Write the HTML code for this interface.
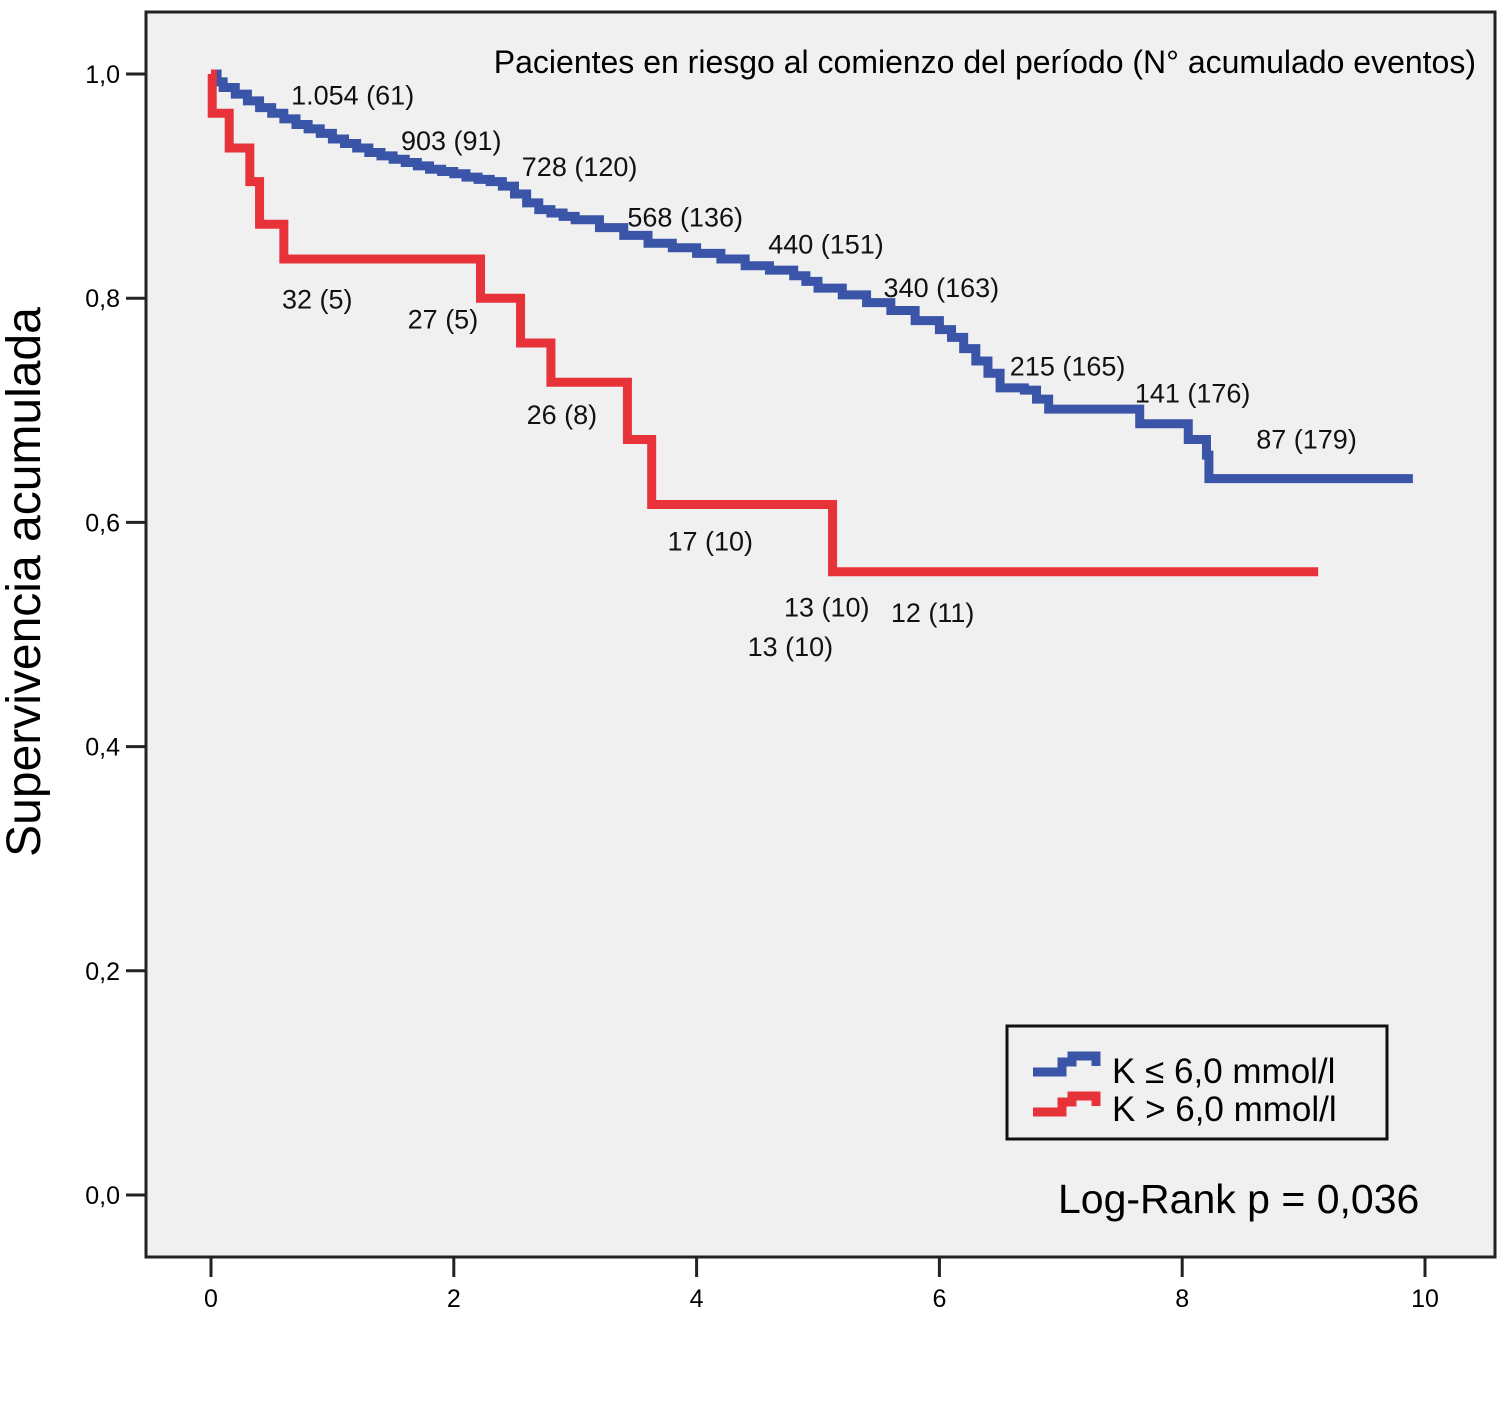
<!DOCTYPE html>
<html><head><meta charset="utf-8"><style>
body{margin:0;background:#fff}
svg{display:block;font-family:"Liberation Sans",sans-serif}
</style></head><body>
<svg id="c" width="1507" height="1403">
<rect x="146" y="12" width="1349" height="1245" fill="#f0f0f0" stroke="#222" stroke-width="3"/>
<g id="axes"></g>
<g id="series"></g>
<g id="labels" font-size="27" fill="#111"></g>
<text x="0" y="0" font-size="48" transform="translate(40,582) rotate(-90)" text-anchor="middle">Supervivencia acumulada</text>
<text x="1476" y="73" font-size="32" text-anchor="end">Pacientes en riesgo al comienzo del período (N° acumulado eventos)</text>
<g>
<rect x="1007" y="1026" width="380" height="113" fill="none" stroke="#111" stroke-width="3"/>
<path d="M1033 1072 H1062 V1062 H1072 V1056 H1096 V1066" fill="none" stroke="#3a55a8" stroke-width="9"/>
<text x="1112" y="1083" font-size="35">K ≤ 6,0 mmol/l</text>
<path d="M1033 1112 H1062 V1102 H1072 V1096 H1096 V1106" fill="none" stroke="#e8323a" stroke-width="9"/>
<text x="1112" y="1121" font-size="35">K &gt; 6,0 mmol/l</text>
</g>
<text x="1058" y="1213" font-size="41">Log-Rank p = 0,036</text>
</svg>
<script>
const xTicks=[0,2,4,6,8,10];
const yTicks=[0,0.2,0.4,0.6,0.8,1.0];
const yTickLabels=["0,0","0,2","0,4","0,6","0,8","1,0"];
const blueT=[0,0.05,0.1,0.2,0.3,0.4,0.5,0.6,0.7,0.8,0.9,1.0,1.1,1.2,1.3,1.4,1.5,1.6,1.7,1.8,1.9,2.0,2.1,2.2,2.3,2.4,2.5,2.6,2.7,2.8,2.9,3.0,3.2,3.4,3.6,3.8,4.0,4.2,4.4,4.6,4.8,4.9,5.0,5.2,5.4,5.6,5.8,6.0,6.1,6.2,6.3,6.4,6.5,6.7,6.8,6.9,7.6,7.65,8.0,8.05,8.2,8.22,9.9];
const blueS=[1.0,0.993,0.988,0.982,0.976,0.970,0.965,0.96,0.955,0.951,0.947,0.942,0.938,0.934,0.93,0.927,0.924,0.921,0.918,0.915,0.913,0.911,0.908,0.906,0.904,0.9,0.893,0.885,0.879,0.876,0.873,0.870,0.863,0.856,0.849,0.845,0.840,0.835,0.829,0.825,0.82,0.815,0.809,0.803,0.796,0.789,0.78,0.772,0.765,0.755,0.744,0.733,0.72,0.718,0.71,0.701,0.701,0.688,0.688,0.674,0.66,0.639,0.639];
const redT=[0,0.01,0.15,0.32,0.4,0.6,2.22,2.55,2.8,3.43,3.63,5.12,9.12];
const redS=[1.0,0.965,0.934,0.904,0.866,0.835,0.8,0.76,0.725,0.674,0.616,0.556,0.556];
const annText=["1.054 (61)","903 (91)","728 (120)","568 (136)","440 (151)","340 (163)","215 (165)","141 (176)","87 (179)","32 (5)","27 (5)","26 (8)","17 (10)","13 (10)","12 (11)","13 (10)"];
const annT=[0.66,1.565,2.56,3.43,4.59,5.54,6.58,7.61,8.61,0.585,1.62,2.60,3.76,4.72,5.60,4.42];
const annS=[0.973,0.932,0.909,0.864,0.840,0.801,0.731,0.707,0.666,0.791,0.773,0.688,0.575,0.516,0.511,0.481];
const NS="http://www.w3.org/2000/svg";
const X=t=>211+t*121.4, Y=s=>1195-s*1121;
function mk(tag,attrs,parent){const e=document.createElementNS(NS,tag);for(const k in attrs)e.setAttribute(k,attrs[k]);parent.appendChild(e);return e;}
const ax=document.getElementById('axes');
xTicks.forEach(t=>{
 const l=mk('line',{x1:X(t),x2:X(t),y1:1257,y2:1277,stroke:'#222','stroke-width':3},ax);
 
 
 const tx=mk('text',{x:X(t),y:1307,'font-size':25,'text-anchor':'middle'},ax);tx.textContent=t;
 
 
});
yTicks.forEach((s,i)=>{
 const l=mk('line',{x1:126,x2:146,y1:Y(s),y2:Y(s),stroke:'#222','stroke-width':3},ax);
 
 
 const tx=mk('text',{x:120,y:Y(s)+9,'font-size':25,'text-anchor':'end'},ax);tx.textContent=yTickLabels[i];
 
 
});
function step(T,S){let d='M'+X(T[0])+' '+Y(S[0]);for(let i=1;i<T.length;i++){d+=' H'+X(T[i])+' V'+Y(S[i]);}return d;}
const sg=document.getElementById('series');
const b=mk('path',{d:step(blueT,blueS),fill:'none',stroke:'#3a55a8','stroke-width':9},sg);


const r=mk('path',{d:step(redT,redS),fill:'none',stroke:'#e8323a','stroke-width':9},sg);


const lg=document.getElementById('labels');
annText.forEach((t,i)=>{
 const e=mk('text',{x:X(annT[i]),y:Y(annS[i])},lg);e.textContent=t;
 
 
});
</script>
</body></html>
